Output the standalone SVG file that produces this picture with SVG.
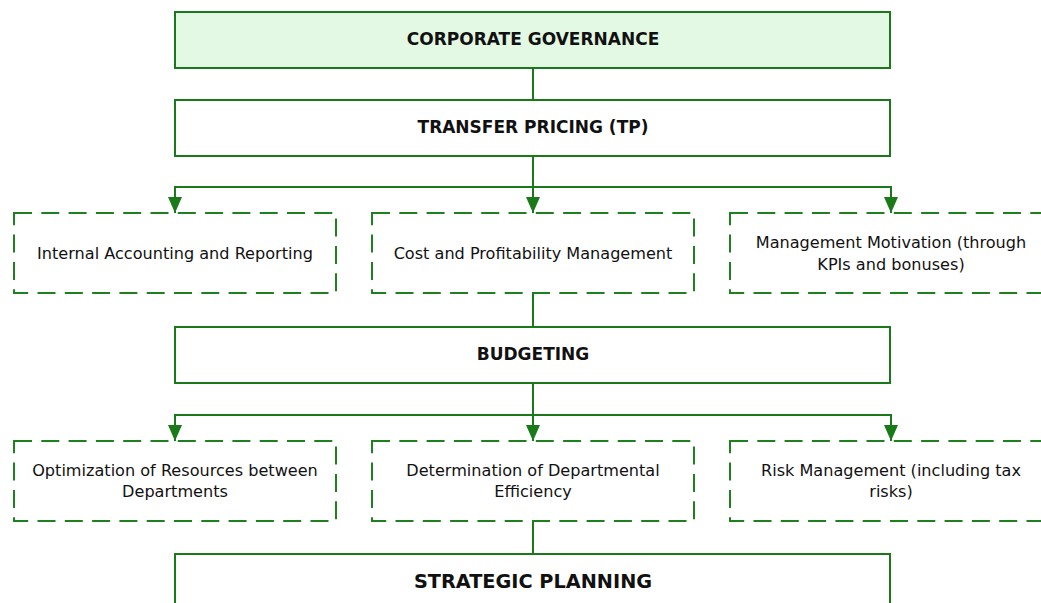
<svg xmlns="http://www.w3.org/2000/svg" width="1041" height="603" viewBox="0 0 1041 603">
  <style>
    .main { fill: #ffffff; stroke: #1a7a1a; stroke-width: 2; }
    .root { fill: #e3f9e3; stroke: #1a7a1a; stroke-width: 2; }
    .sub { fill: #ffffff; stroke: #1f801f; stroke-width: 2; stroke-dasharray: 18 9.3; }
    .conn { fill: none; stroke: #1a7a1a; stroke-width: 2; }
    text { font-family: "DejaVu Sans", Verdana, sans-serif; fill: #111111; text-anchor: middle; dominant-baseline: central; }
    .title { font-size: 17px; font-weight: bold; }
    .title-lg { font-size: 19.3px; font-weight: bold; }
    .label { font-size: 16.1px; }
  </style>
  <defs>
    <marker id="arrow" viewBox="0 0 16 14" refX="16" refY="7" markerWidth="16" markerHeight="14" markerUnits="userSpaceOnUse" orient="auto">
      <path d="M0,0 L16,7 L0,14 Z" fill="#1a7a1a"/>
    </marker>
  </defs>

  <!-- connectors -->
  <g id="connectors">
    <path class="conn" d="M533,68 V100"/>
    <path class="conn" d="M533,156 V213" marker-end="url(#arrow)"/>
    <path class="conn" d="M533,187 H175 V213" marker-end="url(#arrow)"/>
    <path class="conn" d="M533,187 H891 V213" marker-end="url(#arrow)"/>
    <path class="conn" d="M533,293 V327"/>
    <path class="conn" d="M533,383 V441" marker-end="url(#arrow)"/>
    <path class="conn" d="M533,415 H175 V441" marker-end="url(#arrow)"/>
    <path class="conn" d="M533,415 H891 V441" marker-end="url(#arrow)"/>
    <path class="conn" d="M533,521 V554"/>
  </g>

  <g id="corporate-governance">
    <rect class="root" x="175" y="12" width="715" height="56"/>
    <text class="title" x="533" y="39">CORPORATE GOVERNANCE</text>
  </g>

  <g id="transfer-pricing">
    <rect class="main" x="175" y="100" width="715" height="56"/>
    <text class="title" x="533" y="127">TRANSFER PRICING (TP)</text>
  </g>

  <g id="internal-accounting">
    <rect class="sub" x="14" y="213" width="322" height="80"/>
    <text class="label" x="175" y="253">Internal Accounting and Reporting</text>
  </g>

  <g id="cost-profitability">
    <rect class="sub" x="372" y="213" width="322" height="80"/>
    <text class="label" x="533" y="253">Cost and Profitability Management</text>
  </g>

  <g id="management-motivation">
    <rect class="sub" x="730" y="213" width="322" height="80"/>
    <text class="label" x="891" y="242">Management Motivation (through</text>
    <text class="label" x="891" y="264">KPIs and bonuses)</text>
  </g>

  <g id="budgeting">
    <rect class="main" x="175" y="327" width="715" height="56"/>
    <text class="title" x="533" y="354">BUDGETING</text>
  </g>

  <g id="resource-optimization">
    <rect class="sub" x="14" y="441" width="322" height="80"/>
    <text class="label" x="175" y="470">Optimization of Resources between</text>
    <text class="label" x="175" y="491">Departments</text>
  </g>

  <g id="departmental-efficiency">
    <rect class="sub" x="372" y="441" width="322" height="80"/>
    <text class="label" x="533" y="470">Determination of Departmental</text>
    <text class="label" x="533" y="491">Efficiency</text>
  </g>

  <g id="risk-management">
    <rect class="sub" x="730" y="441" width="322" height="80"/>
    <text class="label" x="891" y="470">Risk Management (including tax</text>
    <text class="label" x="891" y="491">risks)</text>
  </g>

  <g id="strategic-planning">
    <rect class="main" x="175" y="554" width="715" height="60"/>
    <text class="title-lg" x="533" y="581">STRATEGIC PLANNING</text>
  </g>
</svg>
